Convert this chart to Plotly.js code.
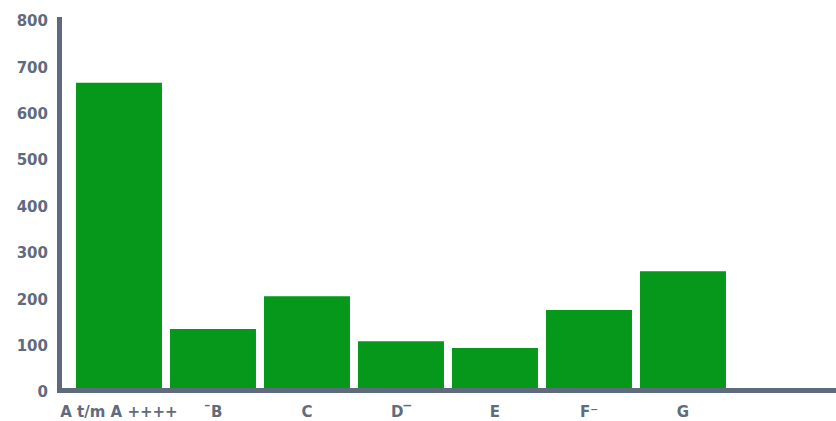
<!DOCTYPE html>
<html>
<head>
<meta charset="utf-8">
<script src="https://cdn.plot.ly/plotly-3.0.1.min.js"></script>
<style>
  html, body { margin: 0; padding: 0; background: #fff; }
  #chart { width: 836px; height: 421px; }
</style>
</head>
<body>
<div id="chart"></div>
<script>
// Energy label classes and number of dwellings per class
const labels = ["A t/m A ++++", "\u00AFB", "C", "D\u203E", "E", "F\u207B", "G", ""];
const counts = [658, 127, 198, 101, 86, 168, 252, null];
const yTicks = [0, 100, 200, 300, 400, 500, 600, 700, 800];

const axisColor = "#5f6b7d";
const tickFont = { family: "'DejaVu Sans', sans-serif", size: 15, color: "#5f6b7f", weight: 700 };

const trace = {
  type: "bar",
  x: labels.map((_, i) => i),
  y: counts,
  marker: { color: "#05981a", line: { width: 0 } },
  hoverinfo: "skip"
};

const layout = {
  width: 836,
  height: 421,
  margin: { l: 62, r: 0, t: 17, b: 33, pad: 0 },
  paper_bgcolor: "#ffffff",
  plot_bgcolor: "#ffffff",
  bargap: 0.085,
  showlegend: false,
  xaxis: {
    range: [-0.606, 7.628],
    tickmode: "array",
    tickvals: labels.map((_, i) => i),
    ticktext: labels,
    showgrid: false,
    zeroline: false,
    showline: true,
    linecolor: axisColor,
    linewidth: 5,
    ticks: "",
    ticklabelstandoff: 6,
    tickfont: tickFont,
    fixedrange: true
  },
  yaxis: {
    range: [0, 800],
    tickmode: "array",
    tickvals: yTicks,
    ticktext: yTicks.map(String),
    showgrid: false,
    zeroline: false,
    showline: true,
    linecolor: axisColor,
    linewidth: 5,
    ticks: "",
    ticklabelshift: 4,
    ticklabelstandoff: 6,
    tickfont: tickFont,
    fixedrange: true
  }
};

Plotly.newPlot("chart", [trace], layout, { displayModeBar: false, staticPlot: true });
</script>
</body>
</html>
